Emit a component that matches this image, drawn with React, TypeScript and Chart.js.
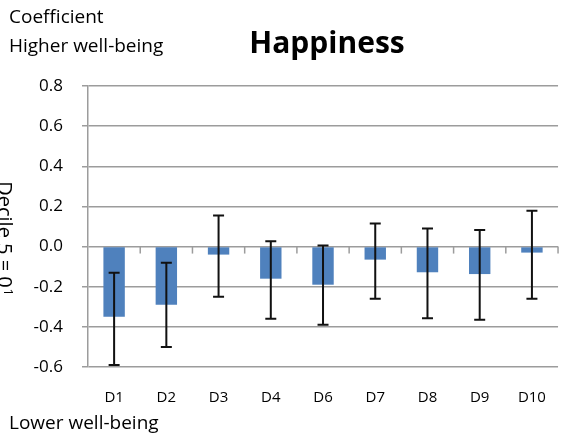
import React, { useEffect, useRef } from "react";
import { Chart, registerables } from "chart.js";

Chart.register(...registerables);

const categories = ["D1", "D2", "D3", "D4", "D6", "D7", "D8", "D9", "D10"];
const coefficients = [-0.35, -0.29, -0.04, -0.16, -0.19, -0.065, -0.128, -0.137, -0.03];
const errorLow = [-0.59, -0.5, -0.25, -0.36, -0.39, -0.26, -0.357, -0.365, -0.26];
const errorHigh = [-0.13, -0.08, 0.155, 0.027, 0.005, 0.115, 0.09, 0.083, 0.178];
const yMin = -0.6;
const yMax = 0.8;
const yStep = 0.2;

const FONT = "'Open Sans', Lato, sans-serif";
const GRID = "#9c9c9c";

const decorPlugin = {
  id: "decor",
  afterDatasetsDraw(chart: any) {
    const ctx = chart.ctx;
    const x = chart.scales.x;
    const y = chart.scales.y;
    const area = chart.chartArea;
    ctx.save();
    // category tick marks on zero line
    const y0 = y.getPixelForValue(0);
    ctx.strokeStyle = GRID;
    ctx.lineWidth = 1.5;
    const n = categories.length;
    for (let i = 1; i <= n; i++) {
      const px = i === n ? area.right : (x.getPixelForValue(i - 1) + x.getPixelForValue(i)) / 2;
      ctx.beginPath();
      ctx.moveTo(px, y0);
      ctx.lineTo(px, y0 + 7);
      ctx.stroke();
    }
    // error bars
    const meta = chart.getDatasetMeta(0);
    ctx.strokeStyle = "#111";
    ctx.lineWidth = 2;
    meta.data.forEach((bar: any, i: number) => {
      const bx = bar.x;
      const yl = y.getPixelForValue(errorLow[i]);
      const yh = y.getPixelForValue(errorHigh[i]);
      ctx.beginPath();
      ctx.moveTo(bx, yh);
      ctx.lineTo(bx, yl);
      ctx.moveTo(bx - 5.5, yh);
      ctx.lineTo(bx + 5.5, yh);
      ctx.moveTo(bx - 5.5, yl);
      ctx.lineTo(bx + 5.5, yl);
      ctx.stroke();
    });
    // texts
    ctx.fillStyle = "#000";
    ctx.textBaseline = "middle";
    ctx.textAlign = "left";
    ctx.font = `19px ${FONT}`;
    ctx.fillText("Coefficient", 9, 18);
    ctx.fillText("Higher well-being", 9, 47);
    ctx.fillText("Lower well-being", 9, 424);
    ctx.textAlign = "center";
    ctx.font = `bold 30px ${FONT}`;
    ctx.fillText("Happiness", (area.left + area.right) / 2 + 4, 44);
    // rotated y title
    ctx.translate(4, 238);
    ctx.rotate(Math.PI / 2);
    ctx.textAlign = "left";
    ctx.font = `20px ${FONT}`;
    const main = "Decile 5 = 0";
    const w = ctx.measureText(main).width;
    const total = w + 7;
    ctx.fillText(main, -total / 2, 0);
    ctx.font = `12px ${FONT}`;
    ctx.fillText("1", -total / 2 + w + 1, -3);
    ctx.restore();
  },
};

export default function App() {
  const ref = useRef<HTMLCanvasElement>(null);
  useEffect(() => {
    const chart = new Chart(ref.current as HTMLCanvasElement, {
      type: "bar",
      data: {
        labels: categories,
        datasets: [
          {
            data: coefficients,
            backgroundColor: "#4f81bd",
            borderWidth: 0,
            categoryPercentage: 1,
            barPercentage: 0.41,
          },
        ],
      },
      options: {
        animation: false,
        responsive: false,
        maintainAspectRatio: false,
        layout: { padding: { left: 0, right: 1, top: 86, bottom: 0 } },
        plugins: { legend: { display: false }, title: { display: false }, tooltip: { enabled: false } },
        scales: {
          x: {
            grid: { display: false, drawTicks: false },
            border: { display: false },
            ticks: { font: { family: FONT, size: 15 }, color: "#000", padding: 22, maxRotation: 0 },
            afterFit(scale: any) {
              scale.height = 72;
            },
          },
          y: {
            min: yMin,
            max: yMax,
            ticks: {
              stepSize: yStep,
              font: { family: FONT, size: 17 },
              color: "#000",
              padding: 19,
              callback: (v: any) => (Math.abs(Number(v)) < 1e-9 ? "0.0" : Number(v).toFixed(1)),
            },
            grid: { color: GRID, lineWidth: 1.5, tickLength: 6 },
            border: { display: true, color: GRID, width: 1.5 },
            afterFit(scale: any) {
              scale.width = 88;
            },
          },
        },
      },
      plugins: [decorPlugin],
    });
    return () => chart.destroy();
  }, []);
  return (
    <div style={{ position: "fixed", left: 0, top: 0, width: 568, height: 439, background: "#fff" }}>
      <canvas ref={ref} width={568} height={439} />
    </div>
  );
}
